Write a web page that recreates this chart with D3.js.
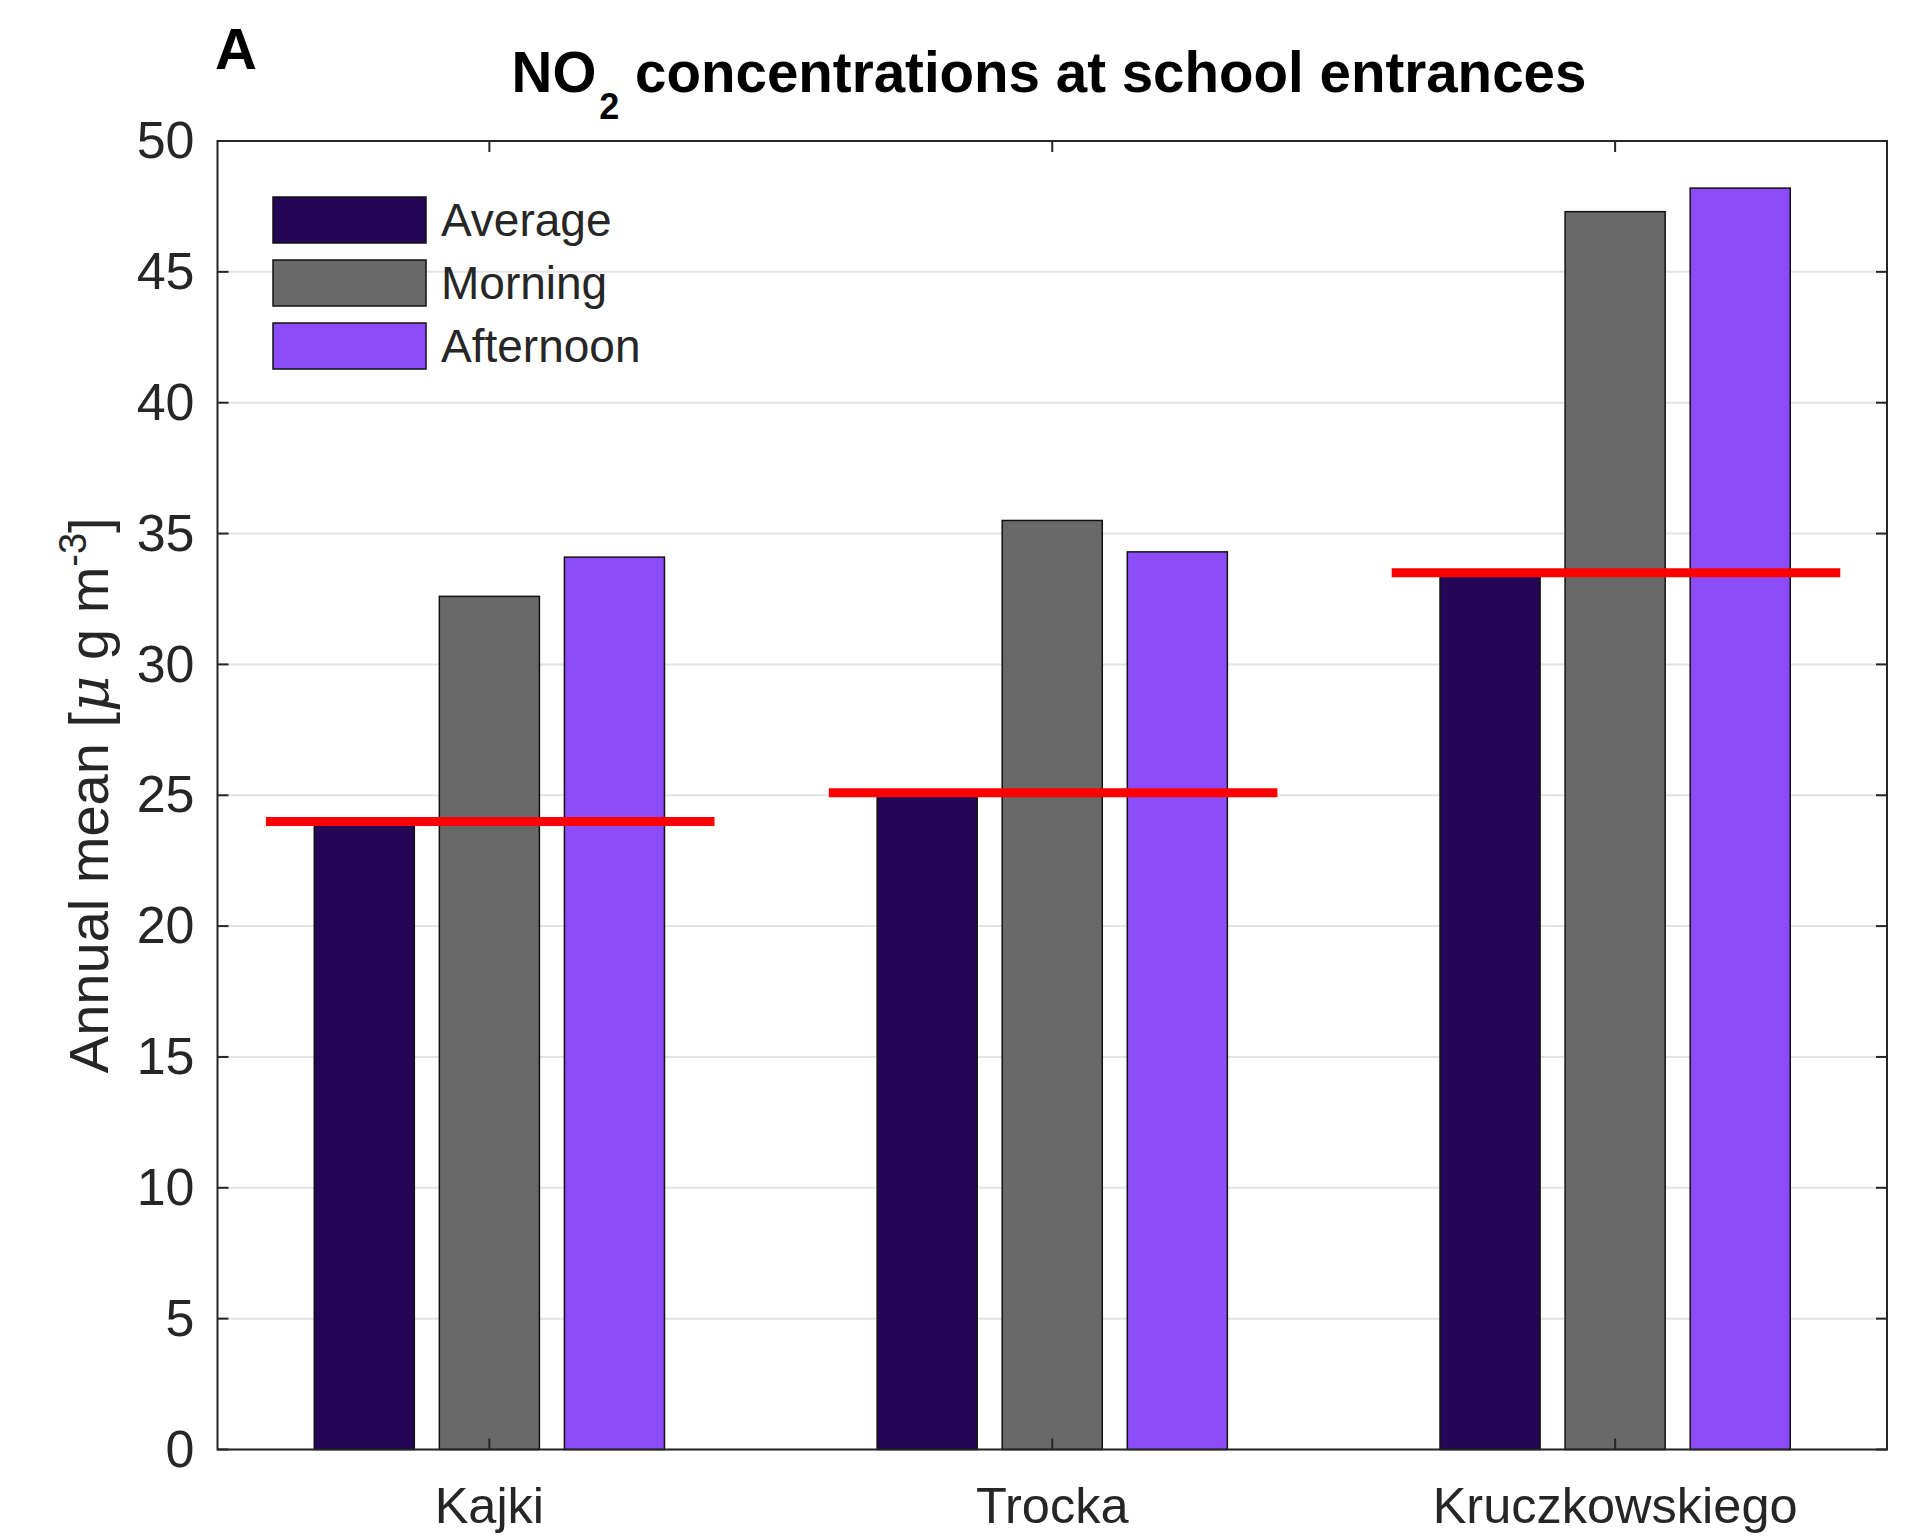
<!DOCTYPE html>
<html lang="en">
<head>
  <title>NO2 at school entrances</title>
  <meta charset="utf-8">
  <script src="https://d3js.org/d3.v7.min.js" charset="utf-8"></script>
  <style>
  body { margin: 0; background: #fff; }
  text { font-family: "Liberation Sans", Arial, sans-serif; fill: #262626; }
  </style>
</head>
<body>
  <script>
    // data
    var schools = ['Kajki', 'Trocka', 'Kruczkowskiego'];
    var seriesNames = ['Average', 'Morning', 'Afternoon'];
    var seriesColors = ['#250556', '#696969', '#8c4cf9'];
    var averageVals = [23.9, 25.0, 33.4];
    var morningVals = [32.6, 35.5, 47.3];
    var afternoonVals = [34.1, 34.3, 48.2];
    var limitVals = [24.0, 25.1, 33.5];   // red reference line per school
    var yTicks = [0, 5, 10, 15, 20, 25, 30, 35, 40, 45, 50];

    var w = 1905;
    var h = 1537;
    // plot box (note: "top" is reserved on window, so use axTop)
    var axLeft = 217.5, axRight = 1887, axTop = 141, axBottom = 1449.5;

    var svg = d3.select('body')
      .append('svg')
      .attr('width', w)
      .attr('height', h);

    var xScale = d3.scaleLinear()
      .domain([0.517, 3.483])
      .range([axLeft, axRight]);

    var yScale = d3.scaleLinear()
      .domain([0, 50])
      .range([axBottom, axTop]);

    // grid lines
    svg.append('g')
      .selectAll('line')
      .data(yTicks)
      .enter()
      .append('line')
      .attr('x1', axLeft)
      .attr('x2', axRight)
      .attr('y1', function (d) { return yScale(d); })
      .attr('y2', function (d) { return yScale(d); })
      .attr('stroke', '#e3e3e3')
      .attr('stroke-width', 2);

    // grouped bars, MATLAB-style offsets
    var allSeries = [averageVals, morningVals, afternoonVals];
    var step = 0.2222;
    var barW = 0.8 * step;
    allSeries.forEach(function (vals, s) {
      svg.append('g')
        .selectAll('rect')
        .data(vals)
        .enter()
        .append('rect')
        .attr('x', function (d, i) { return xScale(i + 1 + (s - 1) * step - barW / 2); })
        .attr('width', xScale(barW) - xScale(0))
        .attr('y', function (d) { return yScale(d); })
        .attr('height', function (d) { return yScale(0) - yScale(d); })
        .attr('fill', seriesColors[s])
        .attr('stroke', '#111')
        .attr('stroke-width', 1.5);
    });

    // red reference lines
    svg.append('g')
      .selectAll('line')
      .data(limitVals)
      .enter()
      .append('line')
      .attr('x1', function (d, i) { return xScale(i + 1 - 0.397); })
      .attr('x2', function (d, i) { return xScale(i + 1 + 0.400); })
      .attr('y1', function (d) { return yScale(d); })
      .attr('y2', function (d) { return yScale(d); })
      .attr('stroke', '#ff0000')
      .attr('stroke-width', 9);

    // axes box
    svg.append('rect')
      .attr('x', axLeft)
      .attr('y', axTop)
      .attr('width', axRight - axLeft)
      .attr('height', axBottom - axTop)
      .attr('fill', 'none')
      .attr('stroke', '#262626')
      .attr('stroke-width', 2);

    var yAxisL = d3.axisLeft(yScale).tickValues(yTicks).tickSize(0).tickPadding(23);
    var gy = svg.append('g')
      .attr('transform', 'translate(' + axLeft + ',0)')
      .call(yAxisL);
    gy.select('.domain').remove();
    gy.selectAll('text')
      .attr('font-size', 52)
      .attr('font-family', '"Liberation Sans", Arial, sans-serif')
      .attr('fill', '#262626');

    // inward ticks on both sides
    var tickLen = 11;
    svg.append('g').selectAll('line').data(yTicks).enter().append('line')
      .attr('x1', axLeft).attr('x2', axLeft + tickLen)
      .attr('y1', function (d) { return yScale(d); })
      .attr('y2', function (d) { return yScale(d); })
      .attr('stroke', '#262626').attr('stroke-width', 2);
    svg.append('g').selectAll('line').data(yTicks).enter().append('line')
      .attr('x1', axRight).attr('x2', axRight - tickLen)
      .attr('y1', function (d) { return yScale(d); })
      .attr('y2', function (d) { return yScale(d); })
      .attr('stroke', '#262626').attr('stroke-width', 2);
    svg.append('g').selectAll('line').data(schools).enter().append('line')
      .attr('x1', function (d, i) { return xScale(i + 1); })
      .attr('x2', function (d, i) { return xScale(i + 1); })
      .attr('y1', axBottom).attr('y2', axBottom - tickLen)
      .attr('stroke', '#262626').attr('stroke-width', 2);
    svg.append('g').selectAll('line').data(schools).enter().append('line')
      .attr('x1', function (d, i) { return xScale(i + 1); })
      .attr('x2', function (d, i) { return xScale(i + 1); })
      .attr('y1', axTop).attr('y2', axTop + tickLen)
      .attr('stroke', '#262626').attr('stroke-width', 2);

    // x tick labels
    svg.append('g').selectAll('text').data(schools).enter().append('text')
      .attr('x', function (d, i) { return xScale(i + 1); })
      .attr('y', 1523)
      .attr('text-anchor', 'middle')
      .attr('font-size', 50.5)
      .text(function (d) { return d; });

    // y label
    var yl = svg.append('text')
      .attr('transform', 'translate(108,' + ((axTop + axBottom) / 2) + ') rotate(-90)')
      .attr('text-anchor', 'middle')
      .attr('font-size', 56);
    yl.append('tspan').text('Annual mean [');
    yl.append('tspan').attr('font-style', 'italic').attr('font-family', '"DejaVu Serif", serif').text('\u03bc');
    yl.append('tspan').text(' g m');
    yl.append('tspan').attr('font-size', 38).attr('dy', -22).text('-3');
    yl.append('tspan').attr('dy', 22).text(']');

    // title (black, so set via style to beat the css rule)
    var title = svg.append('text')
      .attr('x', 1049)
      .attr('y', 92)
      .attr('text-anchor', 'middle')
      .attr('font-size', 56.5)
      .attr('font-weight', 'bold')
      .style('fill', '#000');
    title.append('tspan').text('NO');
    title.append('tspan').attr('font-size', 36).attr('dx', 3).attr('dy', 27).text('2');
    title.append('tspan').attr('dy', -27).text(' concentrations at school entrances');

    svg.append('text')
      .attr('x', 215)
      .attr('y', 69)
      .attr('font-size', 58)
      .attr('font-weight', 'bold')
      .style('fill', '#000')
      .text('A');

    // legend
    var legend = svg.append('g');
    seriesNames.forEach(function (name, s) {
      var ly = 197 + s * 63;
      legend.append('rect')
        .attr('x', 273).attr('y', ly)
        .attr('width', 153).attr('height', 46)
        .attr('fill', seriesColors[s])
        .attr('stroke', '#111').attr('stroke-width', 1.5);
      legend.append('text')
        .attr('x', 441).attr('y', ly + 39)
        .attr('font-size', 46)
        .text(name);
    });
  </script>
</body>
</html>
